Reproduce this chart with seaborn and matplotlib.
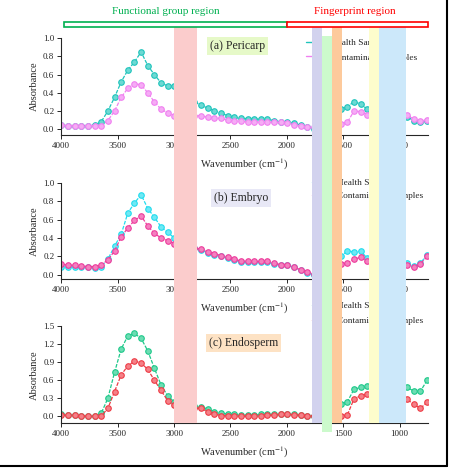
import matplotlib
matplotlib.use("Agg")
import matplotlib.pyplot as plt
import matplotlib.transforms as mtransforms
from matplotlib.patches import Rectangle
from matplotlib.lines import Line2D
from matplotlib.colors import to_rgb
import seaborn as sns
import pandas as pd

# wavenumber grid (cm-1)
wavenumber = [4000, 3941, 3882, 3823, 3764, 3705, 3646, 3587, 3528, 3469,
              3410, 3351, 3292, 3233, 3174, 3115, 3056, 2997, 2938, 2879,
              2820, 2761, 2702, 2643, 2584, 2525, 2466, 2407, 2348, 2289,
              2230, 2171, 2112, 2053, 1994, 1935, 1876, 1817, 1758, 1699,
              1640, 1581, 1522, 1463, 1404, 1345, 1286, 1227, 1168, 1109,
              1050, 991, 932, 873, 814, 755]

# (a) Pericarp
pericarp_health = [0.047, 0.04, 0.04, 0.04, 0.04, 0.045, 0.083, 0.20, 0.35, 0.52,
                   0.65, 0.74, 0.85, 0.70, 0.60, 0.51, 0.475, 0.475, 0.40, 0.34,
                   0.30, 0.27, 0.23, 0.205, 0.176, 0.15, 0.13, 0.12, 0.117, 0.113,
                   0.11, 0.11, 0.095, 0.08, 0.08, 0.066, 0.045, 0.02, 0.0, 0.06,
                   0.12, 0.18, 0.22, 0.25, 0.30, 0.28, 0.22, 0.24, 0.22, 0.20,
                   0.18, 0.16, 0.14, 0.09, 0.08, 0.09]
pericarp_contam = [0.045, 0.04, 0.04, 0.04, 0.04, 0.04, 0.04, 0.095, 0.20, 0.35,
                   0.45, 0.50, 0.49, 0.40, 0.30, 0.22, 0.18, 0.15, 0.15, 0.15,
                   0.15, 0.15, 0.13, 0.124, 0.12, 0.10, 0.095, 0.09, 0.08, 0.085,
                   0.08, 0.078, 0.077, 0.075, 0.07, 0.05, 0.035, 0.02, 0.02, 0.03,
                   0.04, 0.05, 0.06, 0.075, 0.20, 0.195, 0.16, 0.17, 0.17, 0.16,
                   0.16, 0.16, 0.155, 0.11, 0.095, 0.10]

# (b) Embryo
embryo_health = [0.09, 0.09, 0.083, 0.083, 0.083, 0.072, 0.09, 0.17, 0.31, 0.44,
                 0.67, 0.78, 0.87, 0.72, 0.625, 0.52, 0.46, 0.40, 0.36, 0.32,
                 0.29, 0.27, 0.24, 0.22, 0.20, 0.18, 0.16, 0.14, 0.135, 0.135,
                 0.135, 0.135, 0.12, 0.105, 0.105, 0.08, 0.05, 0.02, 0.0, 0.05,
                 0.10, 0.15, 0.20, 0.26, 0.25, 0.26, 0.18, 0.18, 0.17, 0.16,
                 0.15, 0.14, 0.127, 0.10, 0.127, 0.22]
embryo_contam = [0.116, 0.105, 0.105, 0.097, 0.09, 0.09, 0.11, 0.16, 0.26, 0.41,
                 0.51, 0.59, 0.64, 0.53, 0.45, 0.40, 0.37, 0.34, 0.32, 0.30,
                 0.29, 0.28, 0.25, 0.23, 0.21, 0.19, 0.17, 0.15, 0.15, 0.145,
                 0.145, 0.145, 0.127, 0.11, 0.11, 0.083, 0.054, 0.03, 0.01, 0.04,
                 0.07, 0.10, 0.12, 0.127, 0.17, 0.19, 0.145, 0.16, 0.15, 0.14,
                 0.13, 0.12, 0.11, 0.083, 0.12, 0.20]

# (c) Endosperm
endo_health = [0.04, 0.02, 0.02, 0.005, 0.005, 0.005, 0.05, 0.30, 0.73, 1.12,
               1.34, 1.38, 1.30, 1.09, 0.80, 0.52, 0.34, 0.24, 0.20, 0.18,
               0.17, 0.16, 0.12, 0.077, 0.05, 0.04, 0.04, 0.02, 0.02, 0.02,
               0.03, 0.03, 0.03, 0.03, 0.04, 0.03, 0.02, 0.0, 0.0, 0.05,
               0.10, 0.15, 0.20, 0.24, 0.45, 0.48, 0.50, 0.40, 0.40, 0.40,
               0.42, 0.45, 0.48, 0.42, 0.42, 0.60]
endo_contam = [0.02, 0.02, 0.02, 0.005, 0.0, 0.0, 0.005, 0.13, 0.41, 0.69,
               0.84, 0.92, 0.89, 0.78, 0.60, 0.43, 0.26, 0.18, 0.16, 0.15,
               0.14, 0.13, 0.077, 0.04, 0.01, 0.01, 0.005, 0.005, 0.0, 0.005,
               0.01, 0.02, 0.02, 0.033, 0.04, 0.02, 0.02, 0.01, 0.01, 0.01,
               0.01, 0.01, 0.01, 0.02, 0.29, 0.34, 0.37, 0.29, 0.28, 0.28,
               0.28, 0.28, 0.28, 0.20, 0.13, 0.24]

series_labels = ["Health Samples", "Contaminated Samples"]
panel_titles = ["(a) Pericarp", "(b) Embryo", "(c) Endosperm"]

# highlighted spectral bands (cm-1) and colours
bands = [(3000, 2800, "#fbcccc"), (1780, 1692, "#d2d2ee"), (1692, 1596, "#ccfacc"),
         (1596, 1510, "#fdca9c"), (1275, 1180, "#fdfdcc"), (1180, 940, "#cce8fa")]

sns.set_style("ticks")
plt.rcParams["font.family"] = ["Liberation Serif", "DejaVu Serif"]
plt.rcParams["mathtext.fontset"] = "stix"

fig = plt.figure(figsize=(4.5, 4.69), dpi=100)
W, H = 450.0, 469.0


def add_axes_px(left, top, right, bottom):
    return fig.add_axes([left / W, 1 - bottom / H, (right - left) / W, (bottom - top) / H])


panels = [
    dict(h=pericarp_health, c=pericarp_contam, colors=("#1fc4bc", "#f080f0"),
         box="#e6f9c8", pos=(61.3, 38.3, 427.7, 134.7), ylim=(-0.06, 1.0),
         yticks=[0.0, 0.2, 0.4, 0.6, 0.8, 1.0], title_xy=(0.482, 0.92),
         leg=(0.668, 0.993), legspace=0.6),
    dict(h=embryo_health, c=embryo_contam, colors=("#22dcee", "#ee3c9c"),
         box="#e8e8f6", pos=(61.3, 182.7, 427.7, 279.0), ylim=(-0.045, 1.0),
         yticks=[0.0, 0.2, 0.4, 0.6, 0.8, 1.0], title_xy=(0.49, 0.84),
         leg=(0.684, 1.044), legspace=0.5),
    dict(h=endo_health, c=endo_contam, colors=("#1ec98a", "#ee3c46"),
         box="#fde2c4", pos=(61.3, 326.3, 427.7, 423.3), ylim=(-0.117, 1.5),
         yticks=[0.0, 0.3, 0.6, 0.9, 1.2, 1.5], title_xy=(0.497, 0.828),
         leg=(0.684, 1.256), legspace=0.75),
]

axes = []
for i, p in enumerate(panels):
    ax = add_axes_px(*p["pos"])
    df = pd.DataFrame({
        "wavenumber": wavenumber * 2,
        "absorbance": p["h"] + p["c"],
        "sample": [series_labels[0]] * len(wavenumber) + [series_labels[1]] * len(wavenumber),
    })
    sns.lineplot(data=df, x="wavenumber", y="absorbance", hue="sample",
                 palette=dict(zip(series_labels, p["colors"])), marker="o",
                 markersize=4, linewidth=0.9, estimator=None, legend=False, ax=ax)
    for line in ax.lines:
        c = to_rgb(line.get_color())
        light = tuple(v + (1 - v) * 0.35 for v in c)
        line.set_dashes((3, 1.2))
        line.set_markerfacecolor(light)
        line.set_markeredgecolor(c)
        line.set_markeredgewidth(0.8)

    ax.set_xlim(4000, 750)
    ax.set_ylim(*p["ylim"])
    ax.set_xticks([4000, 3500, 3000, 2500, 2000, 1500, 1000])
    ax.set_xticklabels(["4000", "3500", "3000", "2500", "2000", "1500", "1000"])
    ax.set_yticks(p["yticks"])
    ax.set_yticklabels([f"{v:.1f}" for v in p["yticks"]])
    ax.tick_params(labelsize=6.5, length=3, width=0.7, pad=2)
    ax.set_xlabel("Wavenumber (cm$^{-1}$)", fontsize=7.5, labelpad=5)
    ax.set_ylabel("Absorbance", fontsize=7.5, labelpad=3)
    sns.despine(ax=ax)
    for s in ["left", "bottom"]:
        ax.spines[s].set_linewidth(0.8)

    ax.text(*p["title_xy"], panel_titles[i], transform=ax.transAxes, ha="center",
            va="center", fontsize=8.5,
            bbox=dict(boxstyle="square,pad=0.25", fc=p["box"], ec="none"))

    handles = [Line2D([], [], color=col, lw=1.0) for col in p["colors"]]
    ax.legend(handles, series_labels, loc="upper left", bbox_to_anchor=p["leg"],
              frameon=False, fontsize=6.7, handlelength=2.0, handletextpad=0.7,
              labelspacing=p["legspace"], borderpad=0, borderaxespad=0)
    axes.append(ax)

# bands across all panels (x in data units, y in figure units)
trans = mtransforms.blended_transform_factory(axes[2].transData, fig.transFigure)
for x1, x2, col in bands:
    if col == "#ccfacc":
        y0, y1 = 1 - 432 / H, 1 - 36 / H
    else:
        y0, y1 = 1 - 423.3 / H, 1 - 27 / H
    fig.add_artist(Rectangle((x1, y0), x2 - x1, y1 - y0, transform=trans,
                             facecolor=col, edgecolor="none", zorder=10))

# region bars on top
ytop0, ytop1 = 1 - 26.7 / H, 1 - 22 / H
fig.add_artist(Rectangle((3975, ytop0), 2000 - 3975, ytop1 - ytop0, transform=trans,
                         facecolor="white", edgecolor="#00b050", lw=1.2, zorder=11))
fig.add_artist(Rectangle((2000, ytop0), 750 - 2000, ytop1 - ytop0, transform=trans,
                         facecolor="white", edgecolor="#ff0000", lw=1.2, zorder=11))
fig.text(165.5 / W, 1 - 11 / H, "Functional group region", color="#00b050",
         fontsize=8, ha="center", va="center")
fig.text(354.7 / W, 1 - 11.5 / H, "Fingerprint region", color="#ff0000",
         fontsize=8, ha="center", va="center")

# frame lines on right and bottom
fig.add_artist(Line2D([447 / W, 447 / W], [1 - 466 / H, 1], transform=fig.transFigure,
                      color="black", lw=1.5, zorder=12))
fig.add_artist(Line2D([0, 447 / W], [1 - 466 / H, 1 - 466 / H], transform=fig.transFigure,
                      color="black", lw=1.5, zorder=12))

fig.savefig("out.png", dpi=100)
